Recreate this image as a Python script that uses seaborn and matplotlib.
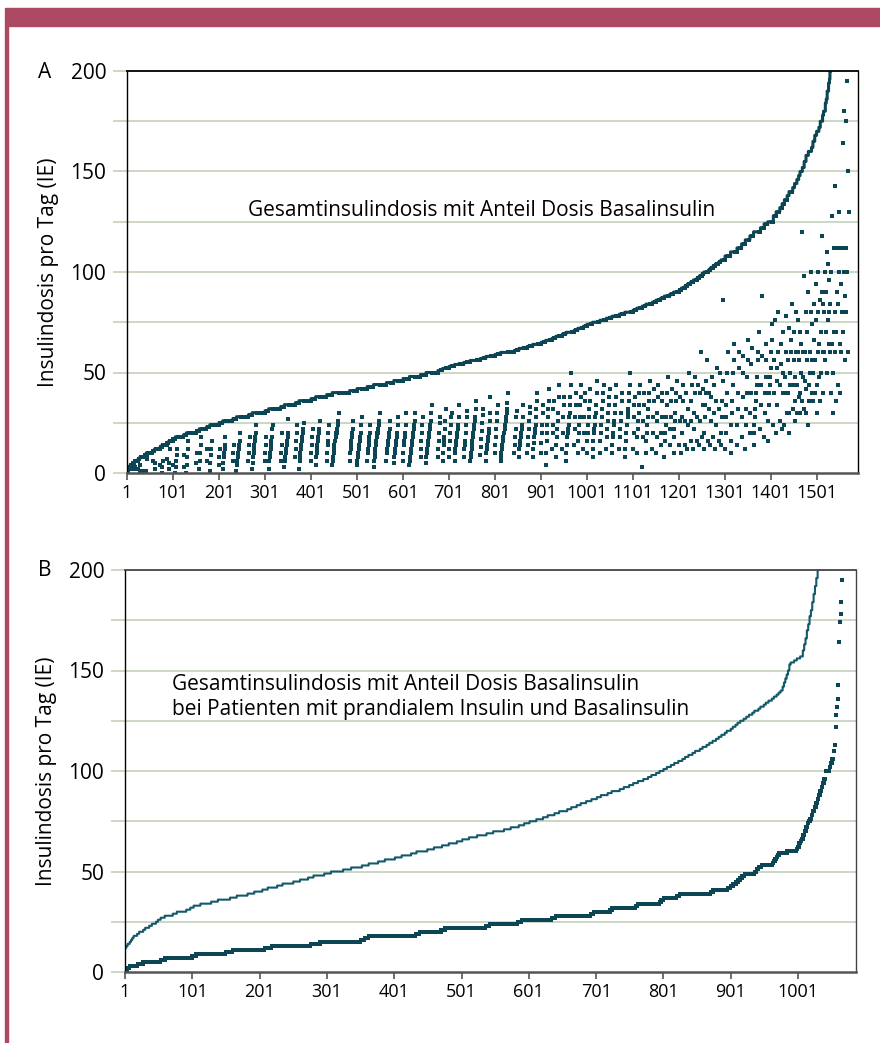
import numpy as np
import matplotlib
matplotlib.use('Agg')
import matplotlib.pyplot as plt
import seaborn as sns
from matplotlib.patches import Rectangle

# Panel A: Gesamtdosis je Stufe (sortiert), darunter Basaldosis der Patienten dieser Stufe
levels_a = [2, 3, 4, 5, 6, 7, 8, 9, 10, 11, 12, 13, 14, 15, 16,
            17, 18, 19, 20, 21, 22, 23, 24, 25, 26, 27, 28, 29, 30,
            31, 32, 33, 34, 35, 36, 37, 38, 39, 40, 41, 42, 43, 44, 45, 46,
            47, 48, 49, 50, 51, 52, 53, 54, 55, 56, 57, 58, 59, 60,
            61, 62, 63, 64, 65, 66, 67, 68, 69, 70, 71, 72, 73, 74, 75,
            76, 77, 78, 79, 80, 81, 82, 83, 84, 85, 86, 87, 88, 89, 90,
            91, 92, 93, 94, 95, 96, 97, 98, 99, 100, 101, 102, 103, 104, 105, 106,
            108, 110, 112, 114, 116, 118, 120, 122, 124, 125,
            128, 130, 132, 134, 136, 138, 140, 142, 144, 146, 148, 150,
            152, 155, 158, 160, 162, 165, 168, 170, 172, 175,
            178, 180, 184, 186, 190, 194, 196, 200,
            205, 210, 215, 220, 230, 240, 250, 260, 280, 300, 320, 350]

basal_a = [
    [2, 2, 2], [1, 3, 3, 3], [2, 4, 4, 4, 4], [2, 5, 5, 5],
    [2, 3, 6, 6, 6, 6, 6, 6], [2, 7, 7, 7], [1, 4, 8, 8, 8, 8, 8, 8, 8, 8], [1, 9, 9, 9],
    [1, 7, 9, 10, 10, 10, 10, 10, 10, 10, 10, 10, 10, 10], [6, 11, 11, 11],
    [2, 5, 12, 12, 12, 12, 12, 12, 12, 12, 12, 12], [4, 13, 13, 13],
    [0, 3, 6, 14, 14, 14, 14, 14, 14, 14, 14], [7, 15, 15, 15],
    [2, 5, 12, 16, 16, 16, 16, 16, 16],
    [4, 17, 17, 17, 17],
    [0, 3, 6, 9, 12, 18, 18, 18, 18, 18, 18, 18, 18, 18, 18, 18, 18, 18],
    [3, 9, 19, 19, 19, 19],
    [0, 4, 8, 12, 16, 20, 20, 20, 20, 20, 20, 20, 20, 20, 20, 20, 20, 20, 20, 20, 20, 20],
    [5, 10, 21, 21, 21, 21],
    [2, 6, 10, 14, 18, 22, 22, 22, 22, 22, 22, 22, 22, 22, 22, 22],
    [6, 12, 23, 23, 23, 23, 23],
    [1, 5, 9, 12, 16, 24, 24, 24, 24, 24, 24, 24, 24, 24, 24, 24, 24, 24, 24, 24],
    [4, 8, 12, 25, 25, 25, 25, 25],
    [2, 5, 8, 10, 12, 14, 18, 26, 26, 26, 26, 26, 26, 26, 26, 26, 26, 26, 26, 26, 26, 26],
    [6, 10, 14, 27, 27, 27, 27, 27],
    [1, 4, 6, 8, 10, 12, 14, 16, 20, 28, 28, 28, 28, 28, 28, 28, 28, 28, 28, 28, 28, 28, 28, 28, 28, 28],
    [6, 10, 14, 18, 29, 29, 29, 29],
    [2, 5, 8, 10, 12, 14, 16, 18, 20, 24, 30, 30, 30, 30, 30, 30, 30, 30, 30, 30, 30, 30, 30, 30, 30, 30, 30, 30],
    [6, 10, 14, 18, 31, 31, 31, 31],
    [2, 6, 8, 10, 12, 14, 16, 18, 22, 24, 32, 32, 32, 32, 32, 32, 32, 32, 32, 32, 32, 32, 32, 32, 32, 32],
    [6, 10, 14, 20, 33, 33, 33, 33],
    [3, 6, 8, 10, 12, 14, 16, 18, 20, 27, 34, 34, 34, 34, 34, 34, 34, 34, 34, 34, 34, 34, 34, 34],
    [8, 12, 16, 20, 24, 35, 35, 35],
    [2, 6, 8, 10, 12, 14, 16, 18, 20, 22, 25, 36, 36, 36, 36, 36, 36, 36, 36, 36, 36, 36, 36, 36, 36, 36],
    [6, 10, 14, 18, 22, 37, 37, 37, 37, 37],
    [4, 8, 10, 12, 14, 16, 18, 20, 22, 26, 38, 38, 38, 38, 38, 38, 38, 38, 38, 38, 38, 38, 38, 38],
    [6, 10, 14, 16, 20, 24, 39, 39, 39, 39, 39, 39],
    [4, 6, 8, 10, 12, 14, 16, 16, 18, 20, 20, 22, 24, 26, 30,
     40, 40, 40, 40, 40, 40, 40, 40, 40, 40, 40, 40, 40, 40, 40, 40, 40, 40, 40, 40, 40, 40, 40],
    [6, 10, 12, 14, 16, 18, 20, 22, 26, 41, 41, 41, 41, 41, 41, 41],
    [4, 6, 8, 10, 12, 14, 16, 18, 20, 24, 28, 42, 42, 42, 42, 42, 42, 42, 42, 42, 42, 42],
    [6, 10, 12, 14, 16, 18, 20, 24, 43, 43, 43, 43, 43, 43],
    [3, 6, 8, 10, 12, 14, 16, 18, 20, 20, 22, 24, 26, 30, 44, 44, 44, 44, 44, 44, 44, 44, 44, 44, 44, 44, 44, 44],
    [6, 10, 12, 14, 16, 18, 20, 22, 26, 45, 45, 45, 45, 45, 45, 45],
    [5, 8, 10, 12, 14, 16, 18, 20, 24, 28, 46, 46, 46, 46, 46, 46, 46, 46, 46, 46],
    [6, 10, 14, 16, 18, 20, 24, 30, 47, 47, 47, 47, 47, 47],
    [4, 6, 8, 10, 12, 14, 16, 18, 20, 22, 24, 26, 30, 48, 48, 48, 48, 48, 48, 48, 48, 48, 48, 48],
    [8, 12, 16, 20, 24, 28, 49, 49, 49, 49, 49, 49],
    [5, 8, 10, 12, 14, 16, 18, 20, 22, 24, 26, 30, 34, 50, 50, 50, 50, 50, 50, 50, 50, 50, 50, 50, 50, 50],
    [8, 12, 16, 20, 25, 28, 51, 51, 51, 51],
    [6, 10, 14, 16, 18, 22, 26, 32, 52, 52, 52, 52, 52, 52],
    [8, 12, 16, 20, 24, 28, 30, 53, 53, 53, 53, 53],
    [6, 10, 12, 14, 16, 18, 20, 22, 24, 28, 34, 54, 54, 54, 54, 54, 54, 54, 54, 54],
    [8, 12, 14, 16, 20, 24, 28, 31, 55, 55, 55, 55, 55, 55],
    [6, 8, 10, 12, 14, 16, 18, 20, 22, 24, 26, 28, 32, 36, 56, 56, 56, 56, 56, 56, 56, 56],
    [9, 13, 17, 21, 25, 29, 32, 57, 57, 57, 57, 57],
    [6, 10, 12, 14, 16, 18, 20, 22, 26, 30, 38, 58, 58, 58, 58, 58, 58, 58, 58, 58],
    [10, 14, 18, 22, 26, 30, 34, 59, 59, 59, 59, 59],
    [6, 8, 10, 12, 14, 16, 18, 20, 20, 22, 24, 26, 28, 30, 32, 35, 40,
     60, 60, 60, 60, 60, 60, 60, 60, 60, 60, 60, 60, 60],
    [10, 14, 18, 22, 28, 31, 61, 61, 61, 61],
    [8, 12, 14, 16, 18, 20, 22, 24, 28, 34, 62, 62, 62, 62, 62, 62, 62, 62],
    [10, 14, 18, 22, 26, 30, 33, 63, 63, 63, 63, 63],
    [8, 12, 15, 18, 20, 22, 24, 28, 32, 36, 40, 64, 64, 64, 64, 64, 64, 64],
    [10, 15, 20, 24, 30, 34, 65, 65, 65, 65],
    [4, 10, 16, 20, 24, 28, 32, 36, 42, 66, 66, 66, 66, 66],
    [12, 20, 24, 32, 36, 67, 67, 67],
    [8, 14, 18, 22, 26, 30, 38, 44, 68, 68, 68, 68, 68, 68],
    [12, 20, 28, 34, 38, 69, 69, 69],
    [6, 10, 14, 18, 20, 22, 24, 28, 30, 34, 38, 44, 50, 70, 70, 70, 70, 70],
    [14, 22, 28, 34, 40, 71, 71, 71],
    [10, 16, 20, 24, 28, 34, 38, 44, 72, 72, 72, 72],
    [12, 20, 28, 36, 40, 73, 73, 73],
    [10, 16, 20, 24, 28, 32, 36, 42, 74, 74, 74, 74],
    [8, 12, 16, 20, 22, 24, 28, 30, 34, 40, 46, 75, 75, 75, 75, 75],
    [10, 16, 20, 24, 28, 32, 36, 40, 44, 76, 76, 76, 76, 76],
    [12, 18, 22, 26, 30, 34, 38, 42, 77, 77, 77, 77],
    [10, 14, 18, 20, 24, 26, 30, 34, 38, 44, 78, 78, 78, 78, 78, 78],
    [12, 18, 22, 26, 30, 36, 40, 79, 79, 79, 79, 79],
    [8, 12, 16, 20, 24, 24, 28, 30, 32, 36, 40, 44, 50, 80, 80, 80, 80, 80],
    [12, 20, 28, 34, 38, 81, 81, 81],
    [10, 18, 22, 26, 30, 34, 40, 44, 82, 82, 82, 82],
    [3, 18, 26, 34, 40, 83, 83, 83],
    [10, 16, 20, 24, 28, 32, 36, 40, 46, 84, 84, 84, 84, 84],
    [12, 20, 28, 36, 42, 85, 85, 85],
    [10, 18, 26, 30, 38, 44, 86, 86, 86, 86],
    [14, 20, 28, 36, 40, 87, 87, 87],
    [8, 16, 20, 24, 28, 34, 40, 48, 88, 88, 88, 88],
    [14, 22, 28, 36, 42, 89, 89, 89],
    [10, 18, 22, 26, 30, 36, 40, 46, 90, 90, 90, 90],
    [14, 26, 38, 91, 91], [10, 20, 28, 36, 44, 92, 92, 92], [14, 26, 40, 93, 93],
    [12, 24, 32, 50, 94, 94, 94], [16, 26, 36, 44, 95, 95], [12, 22, 30, 40, 48, 96, 96, 96],
    [16, 28, 44, 97, 97], [14, 26, 40, 60, 98, 98], [18, 34, 42, 99],
    [12, 20, 28, 34, 40, 46, 56, 100, 100, 100],
    [16, 32, 40, 101], [14, 26, 38, 48, 102, 102], [18, 30, 44, 103, 103],
    [12, 24, 36, 52, 104, 104, 104], [16, 32, 50, 105, 105],
    [14, 20, 28, 36, 46, 86, 106, 106, 106],
    [12, 20, 28, 34, 40, 50, 60, 108, 108, 108, 108, 108],
    [10, 16, 24, 30, 36, 44, 50, 56, 64, 110, 110, 110, 110, 110],
    [14, 24, 32, 40, 52, 60, 112, 112, 112, 112],
    [18, 28, 38, 50, 58, 114, 114, 114],
    [12, 24, 32, 40, 48, 56, 66, 116, 116, 116],
    [20, 30, 40, 54, 62, 118, 118, 118],
    [14, 20, 24, 28, 32, 36, 40, 44, 48, 56, 60, 70, 120, 120, 120],
    [22, 34, 44, 58, 88, 122, 122, 122],
    [18, 30, 40, 48, 56, 64, 124, 124],
    [16, 26, 34, 40, 44, 48, 52, 60, 66, 74, 125, 125],
    [24, 40, 56, 76, 128, 128], [20, 34, 46, 52, 60, 80, 130, 130], [26, 44, 54, 64, 132],
    [22, 40, 50, 70, 134], [24, 40, 48, 60, 78, 136], [30, 40, 56, 72],
    [20, 30, 44, 50, 60, 66, 84, 140], [32, 44, 56, 70], [26, 36, 48, 60, 80],
    [30, 44, 60, 76], [38, 56, 70], [30, 40, 50, 64, 120],
    [36, 48, 60, 98], [32, 46, 60, 80], [30, 42, 56, 70, 90], [24, 36, 44, 50, 60, 80, 100],
    [40, 56, 74], [36, 50, 66, 84], [40, 56, 76, 94], [30, 44, 60, 80, 100], [48, 64, 86],
    [36, 50, 70, 90, 118],
    [60, 84], [40, 60, 80, 100], [56, 90], [70, 110], [50, 76, 104], [64, 96], [80], [60, 84, 100],
    [40, 64, 128], [30, 50, 70, 112], [60, 80, 143], [36, 70, 90, 112], [44, 84, 100, 130],
    [40, 64, 94, 112], [60, 80, 112, 164], [70, 100, 180], [56, 88, 175], [80, 112, 195],
    [100, 150], [60, 130],
]

# Panel B: Gesamtdosis und Basaldosis, jeweils sortiert (Stufe, Anzahl Patienten)
total_b_levels = [12, 13, 14, 15, 16, 17,
                  18, 19, 20, 21, 22, 23, 24, 25, 26,
                  27, 28, 29, 30, 31, 32,
                  33, 34, 35, 36, 37, 38, 39, 40,
                  41, 42, 43, 44, 45, 46, 47,
                  48, 49, 50, 51, 52, 53, 54, 55, 56,
                  57, 58, 59, 60, 61, 62, 63, 64, 65,
                  66, 67, 68, 69, 70, 71, 72, 73, 74,
                  75, 76, 77, 78, 79, 80, 81, 82, 83,
                  84, 85, 86, 87, 88, 89, 90, 91, 92, 93, 94, 95, 96, 97, 98, 99, 100,
                  101, 102, 103, 104, 105, 106, 107, 108, 109, 110, 111, 112, 113,
                  114, 115, 116, 117, 118, 119, 120, 121, 122, 123, 124, 125,
                  126, 127, 128, 129, 130, 131, 132, 133, 134, 135, 136, 137, 138, 139,
                  140, 142, 144, 146, 148, 150, 153,
                  154, 155, 156, 157,
                  160, 163, 166, 170, 173, 177,
                  180, 184, 188, 192, 196, 200,
                  205, 210, 220, 230, 240, 250, 265, 280, 300, 330]
total_b_counts = [2, 2, 3, 2, 2, 2,
                  5, 3, 6, 3, 6, 4, 6, 3, 4,
                  6, 12, 6, 14, 6, 5,
                  10, 16, 10, 18, 10, 16, 10, 12,
                  8, 14, 8, 16, 10, 12, 8,
                  16, 10, 18, 12, 16, 10, 14, 10, 15,
                  10, 14, 8, 16, 10, 12, 10, 12, 8,
                  10, 12, 14, 10, 16, 10, 12, 8, 8,
                  10, 10, 7, 10, 7, 12, 6, 8, 6,
                  8, 8, 8, 6, 10, 6, 12, 6, 8, 6, 7, 8, 7, 5, 7, 5, 6,
                  5, 6, 5, 6, 6, 4, 5, 6, 4, 7, 4, 6, 4,
                  5, 5, 4, 4, 5, 3, 6, 3, 4, 3, 4, 5,
                  4, 4, 5, 3, 6, 3, 5, 3, 4, 5, 3, 4, 3, 3,
                  3, 2, 2, 2, 2, 2, 2,
                  5, 4, 5, 4,
                  2, 2, 2, 2, 2, 2,
                  2, 2, 2, 2, 2, 3,
                  4, 4, 4, 4, 3, 3, 3, 3, 3, 3]

basal_b_levels = [0, 1, 2, 3, 4, 5, 6, 7, 8, 9, 10, 11, 12, 13, 14, 15, 16, 17, 18, 19,
                  20, 21, 22, 23, 24, 25, 26, 27, 28, 29, 30, 31, 32, 33, 34, 35, 36, 37, 38, 39,
                  40, 41, 42, 43, 44, 45, 46, 47, 48, 49, 50, 51, 52, 53, 54, 55, 56, 57, 58, 59,
                  60, 61, 62, 64, 65, 66, 68, 70, 72, 74, 75, 76, 78, 80,
                  82, 84, 86, 88, 90, 92, 94, 96, 100, 102, 104, 106, 110,
                  113, 122, 128, 132, 136, 143, 164, 174, 178, 184, 195]
basal_b_counts = [2, 2, 3, 12, 8, 26, 7, 40, 6, 44, 10, 48, 10, 58, 14, 60, 6, 6, 70, 6,
                  32, 6, 60, 6, 42, 6, 44, 6, 52, 5, 24, 3, 35, 3, 33, 2, 4, 19, 4, 46,
                  4, 22, 4, 4, 4, 3, 3, 3, 4, 15, 3, 3, 4, 16, 2, 2, 2, 2, 2, 12,
                  14, 2, 2, 2, 2, 2, 2, 2, 2, 2, 2, 2, 2, 3,
                  2, 2, 2, 2, 2, 2, 2, 2, 6, 2, 2, 2, 2,
                  1, 1, 1, 1, 1, 1, 1, 1, 1, 1, 1]

x_ticks_a = list(range(1, 1502, 100))
x_ticks_b = list(range(1, 1002, 100))
label_y = 'Insulindosis pro Tag (IE)'
text_a = 'Gesamtinsulindosis mit Anteil Dosis Basalinsulin'
text_b1 = 'Gesamtinsulindosis mit Anteil Dosis Basalinsulin'
text_b2 = 'bei Patienten mit prandialem Insulin und Basalinsulin'

sns.set_style('white')
plt.rcParams['font.family'] = ['Open Sans', 'DejaVu Sans']
plt.rcParams['text.color'] = 'black'
plt.rcParams['xtick.color'] = 'black'
plt.rcParams['ytick.color'] = 'black'
plt.rcParams['axes.labelcolor'] = 'black'

dark = '#0c4553'
teal = '#14596a'
grid_c = '#c8d3c0'
maroon = '#ad4862'
fs = 15
fs_x = 13

fig = plt.figure(figsize=(8.8, 10.43), dpi=100)
fig.patches.append(Rectangle((5 / 880, 1 - 26 / 1043), 875 / 880, 18 / 1043,
                             transform=fig.transFigure, color=maroon, zorder=0))
fig.patches.append(Rectangle((5 / 880, 0), 2.5 / 880, 1 - 26 / 1043,
                             transform=fig.transFigure, color=maroon, zorder=0))

ax_a = fig.add_axes([127 / 880, 1 - 473 / 1043, 731 / 880, 402 / 1043])
ax_b = fig.add_axes([125 / 880, 1 - 972 / 1043, 731 / 880, 402 / 1043])


def style(ax, xmax, xticks, top_color):
    ax.set_xlim(1, xmax)
    ax.set_ylim(0, 200)
    for y in [25, 50, 75, 100, 125, 150, 175]:
        ax.axhline(y, color=grid_c, lw=1.3, zorder=0)
    ax.set_yticks([0, 50, 100, 150, 200])
    ax.set_yticks([25, 75, 125, 175], minor=True)
    ax.set_xticks(xticks)
    ax.tick_params(axis='y', which='both', length=10, width=1.3, color=grid_c,
                   labelsize=fs, pad=5, left=True)
    ax.tick_params(axis='x', length=5, width=1.2, color='#555555', labelsize=fs_x,
                   pad=3, bottom=True)
    ax.set_ylabel(label_y, fontsize=fs)
    ax.yaxis.set_label_coords(-0.093, 0.5)
    ax.set_xlabel('')
    ax.spines['left'].set_color('black')
    ax.spines['left'].set_linewidth(1.0)
    ax.spines['top'].set_color(top_color)
    ax.spines['top'].set_linewidth(1.3)
    ax.spines['right'].set_color(top_color)
    ax.spines['right'].set_linewidth(1.0)
    ax.spines['bottom'].set_color('#555555')
    ax.spines['bottom'].set_linewidth(1.8)


# Panel A
counts_a = [len(g) for g in basal_a]
total_a = np.repeat(levels_a, counts_a)
basal_flat = np.concatenate([np.array(g) for g in basal_a])
idx_a = np.arange(1, len(total_a) + 1)

sns.lineplot(x=idx_a, y=total_a, estimator=None, drawstyle='steps-post',
             color=dark, lw=2.2, ax=ax_a)
sns.scatterplot(x=idx_a, y=basal_flat, marker='s', s=7, color=dark,
                linewidth=0, ax=ax_a)
style(ax_a, 1590, x_ticks_a, 'black')
ax_a.text(0.166, 0.652, text_a, transform=ax_a.transAxes, ha='left', va='center',
          fontsize=fs)

# Panel B
total_b = np.repeat(total_b_levels, total_b_counts)
basal_b = np.repeat(basal_b_levels, basal_b_counts)
idx_tb = np.arange(1, len(total_b) + 1)
idx_bb = np.arange(1, len(basal_b) + 1)

sns.lineplot(x=idx_tb, y=total_b, estimator=None, drawstyle='steps-post',
             color=teal, lw=1.5, ax=ax_b)
sns.scatterplot(x=idx_bb, y=basal_b, marker='s', s=9, color=dark,
                linewidth=0, ax=ax_b)
style(ax_b, 1087, x_ticks_b, '#444444')
ax_b.text(0.064, 0.714, text_b1, transform=ax_b.transAxes, ha='left', va='center',
          fontsize=fs)
ax_b.text(0.064, 0.654, text_b2, transform=ax_b.transAxes, ha='left', va='center',
          fontsize=fs)

fig.text(38 / 880, 1 - 72 / 1043, 'A', fontsize=fs, va='center')
fig.text(38 / 880, 1 - 571 / 1043, 'B', fontsize=fs, va='center')

fig.savefig('out.png', dpi=100)
